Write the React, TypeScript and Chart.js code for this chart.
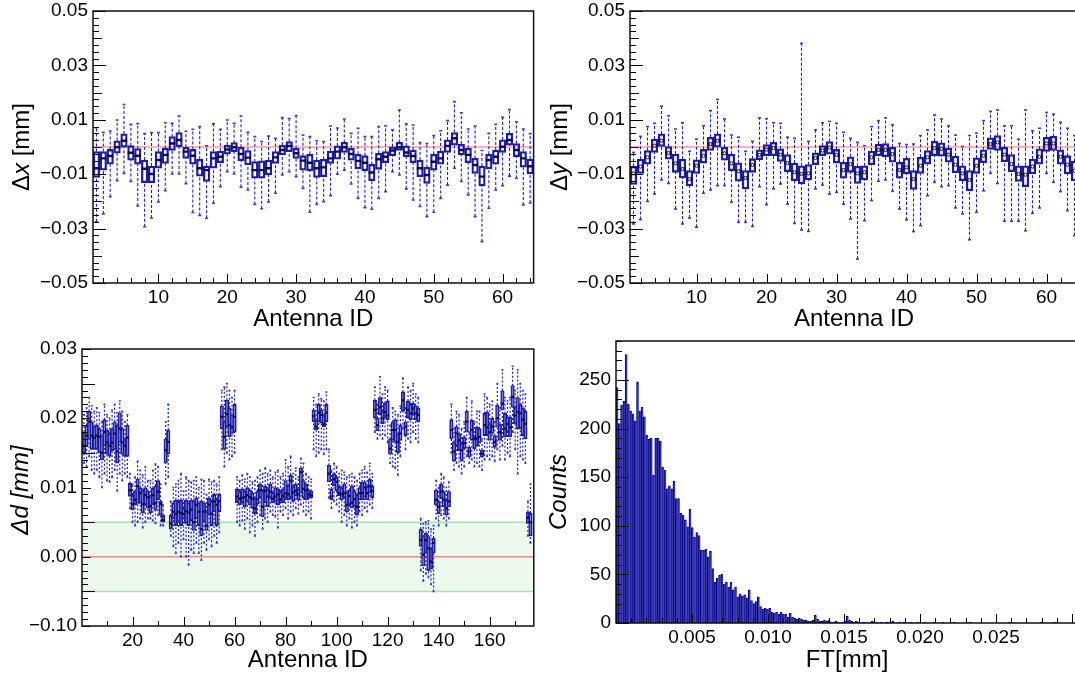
import { useEffect, useRef } from "react";
import { Chart, registerables } from "chart.js";
Chart.register(...registerables);

const FONT = "'Liberation Sans', Arial, Helvetica, sans-serif";

// ---------- Panel 1: Δx per antenna (values in 1e-3 mm) ----------
const DX_HI = [7.1,5.4,5.9,9.9,15.6,8.3,8.6,4.9,5.3,5.3, 8.9,8.7,11.4,5.8,6.5,7.5,0.4,8.5,6.5,9.9, 8.7,11.4,5.4,3.8,2.0,4.0,3.2,10.8,10.5,11.6, 4.4,3.8,2.3,2.0,7.7,7.0,10.3,5.0,6.9,3.8, 3.8,7.5,7.8,6.3,13.6,8.5,8.1,1.6,1.3,4.2, 6.0,9.7,16.7,12.6,6.6,7.7,-1.3,5.0,8.3,10.9, 13.8,9.3,6.6,4.9];
const DX_Q3 = [-1.7,-1.7,-0.9,2.3,4.8,0.5,-0.6,-4.8,-7.0,-1.7, -0.5,3.8,5.3,-0.1,-0.9,-4.5,-7.0,-1.7,-1.5,0.7, 1.6,-0.1,-1.3,-5.4,-5.1,-4.8,-1.7,0.7,2.0,-0.5, -3.2,-2.7,-4.8,-4.5,-1.5,0.4,1.7,-0.5,-2.7,-3.2, -6.4,-2.3,-1.7,0.1,1.7,0.4,-1.1,-4.8,-7.5,-2.7, -1.5,2.6,5.3,1.1,-0.5,-4.2,-7.0,-2.7,-1.1,2.6, 5.0,1.3,-1.7,-4.4];
const DX_MED = [-7.8,-4.2,-3.3,-0.1,2.3,-2.1,-3.2,-8.0,-9.9,-4.8, -2.9,1.3,2.6,-1.7,-3.2,-7.8,-8.5,-4.2,-3.6,-0.9, -0.1,-2.6,-3.9,-8.5,-8.5,-7.8,-3.8,-1.1,0.4,-2.3, -5.0,-5.8,-7.8,-7.5,-4.2,-1.7,-0.1,-2.6,-5.1,-5.8, -9.4,-4.5,-3.6,-1.3,-0.1,-2.0,-3.3,-7.8,-10.3,-5.4, -4.2,0.4,3.2,-1.1,-2.9,-6.6,-10.9,-4.8,-3.6,0.1, 2.6,-1.1,-4.2,-7.1];
const DX_Q1 = [-11.2,-8.5,-6.3,-2.3,-0.1,-4.8,-6.3,-13.1,-13.1,-7.8, -6.0,-1.3,0.1,-4.2,-6.3,-10.7,-12.7,-7.8,-5.8,-2.6, -1.7,-5.0,-6.6,-11.5,-11.5,-10.3,-6.0,-2.9,-1.7,-4.2, -8.5,-8.7,-11.2,-10.9,-6.0,-4.5,-2.0,-4.8,-8.1,-8.7, -12.4,-8.2,-5.8,-3.2,-1.3,-3.6,-5.8,-10.9,-13.4,-8.5, -6.3,-2.0,0.7,-2.9,-5.8,-9.7,-14.3,-8.1,-6.3,-2.0, 0.7,-3.6,-7.4,-9.9];
const DX_LO = [-27.5,-24.6,-18.3,-12.4,-9.7,-12.7,-21.7,-29.3,-26.1,-20.2, -16.1,-9.9,-9.9,-13.5,-24.1,-25.2,-26.2,-20.7,-14.6,-9.1, -9.9,-14.8,-15.8,-21.1,-22.7,-20.2,-17.0,-10.3,-9.1,-10.9, -15.2,-24.0,-21.1,-20.1,-17.9,-10.0,-8.5,-13.6,-18.9,-22.3, -22.9,-18.9,-16.4,-9.1,-10.3,-15.4,-19.5,-21.9,-25.6,-24.0, -18.9,-14.0,-7.8,-12.7,-17.6,-25.6,-34.8,-22.5,-15.8,-14.2, -10.7,-11.5,-21.3,-20.6];

// ---------- Panel 2: Δy per antenna (values in 1e-3 mm) ----------
const DY_HI = [-2.0,3.9,7.5,8.7,15.0,11.5,6.6,8.9,-1.6,2.9, 7.8,13.4,17.5,10.3,4.4,3.6,-1.6,2.1,10.7,10.4, 8.9,8.7,3.6,3.2,38.1,2.1,6.3,8.9,9.4,8.7, 5.4,3.2,1.7,0.5,7.5,9.7,10.7,8.2,1.3,0.9, 1.1,4.2,6.3,11.8,10.3,7.8,4.4,0.2,4.2,5.1, 9.7,13.1,13.6,7.8,7.8,2.9,13.6,6.0,6.9,12.7, 12.1,9.1,6.9,4.2];
const DY_Q3 = [-7.1,-4.5,-1.3,2.9,4.8,0.2,-2.6,-4.5,-8.7,-4.7, -0.9,3.6,4.8,-0.1,-2.7,-5.8,-8.7,-4.3,-1.0,0.9, 1.7,-0.7,-2.8,-5.9,-6.9,-6.5,-2.1,0.5,2.0,-0.9, -5.6,-3.6,-7.1,-6.9,-1.5,1.1,1.3,-0.1,-5.6,-4.2, -8.7,-3.8,-1.3,2.1,1.5,-0.4,-3.3,-6.9,-8.7,-4.0, -1.0,3.4,4.2,-0.1,-2.8,-6.9,-6.9,-4.4,-0.7,3.6, 3.9,-1.0,-3.2,-5.3];
const DY_MED = [-9.7,-7.2,-3.8,0.5,2.3,-2.2,-6.0,-8.1,-11.8,-6.9, -3.2,1.1,2.3,-2.3,-6.0,-8.9,-11.4,-6.6,-2.9,-1.0, -0.4,-2.8,-5.9,-9.3,-9.9,-9.7,-4.0,-1.3,-0.2,-2.9, -8.5,-6.3,-9.7,-9.3,-3.8,-1.1,-1.1,-2.6,-8.5,-7.5, -11.8,-6.9,-3.8,-0.4,-0.7,-2.8,-6.5,-9.7,-12.1,-6.9, -3.2,1.1,1.7,-2.8,-6.3,-9.9,-10.2,-7.2,-3.6,1.3, 1.3,-3.6,-6.5,-8.7];
const DY_Q1 = [-13.8,-9.7,-6.3,-2.0,0.2,-4.5,-9.3,-11.4,-14.3,-9.7, -5.9,-1.3,-0.1,-4.8,-8.7,-12.6,-15.4,-9.3,-4.7,-3.2, -3.2,-5.3,-9.1,-12.4,-13.6,-12.1,-6.5,-3.2,-2.6,-5.9, -11.5,-9.3,-13.4,-12.1,-6.5,-3.2,-3.6,-5.6,-11.5,-9.9, -15.6,-9.7,-6.3,-3.2,-3.4,-5.6,-9.4,-12.4,-16.1,-9.7, -5.8,-0.9,-1.3,-5.4,-9.1,-12.7,-14.6,-9.9,-6.3,-1.6, -1.3,-6.3,-9.9,-12.4];
const DY_LO = [-28.3,-26.7,-20.0,-17.3,-12.1,-13.4,-22.8,-28.3,-26.1,-29.5, -17.0,-15.8,-14.2,-14.2,-20.3,-27.7,-27.7,-29.2,-14.6,-21.2, -15.4,-13.6,-21.0,-28.1,-30.5,-31.0,-15.4,-14.0,-17.3,-16.7, -21.0,-26.5,-41.2,-27.1,-19.7,-12.6,-12.1,-16.3,-22.8,-26.8, -31.1,-28.9,-17.9,-13.0,-14.6,-14.2,-22.4,-24.6,-34.1,-24.0, -16.1,-9.7,-13.4,-27.3,-27.3,-27.3,-30.8,-24.4,-22.4,-9.7, -13.0,-16.4,-23.4,-32.6];

// ---------- Panel 3: Δd per antenna (values in 1e-3 mm) ----------
const DD_LO = [13.5,13.0,14.5,12.5,12.0,12.5,11.5,10.0,12.0,11.0,10.8,11.5,12.5,9.5,12.0,11.0,12.0,11.5,
  7.0,5.0,4.5,5.0,5.5,4.2,5.0,5.5,5.5,5.2,4.8,6.0,4.5,4.5, 10.5,11.5,
  3.0,1.5,0.5,2.0,0.0,2.5,0.0,-1.2,1.0,0.5,2.0,0.5,-0.5,2.0,1.0,2.5,1.5,3.0,2.0,3.5,
  15.5,13.0,15.0,14.0,14.5,15.0,
  5.0,4.5,5.2,4.0,5.5,3.5,4.5,3.0,5.0,6.0,4.0,5.5,5.0,6.5,6.0,5.8,4.2,6.5,6.0,7.0,5.5,6.5,6.0,7.0,6.2,7.5,6.5,6.0,6.5,5.5,
  15.5,14.5,15.0,15.5,14.8,15.5,
  8.5,7.0,8.0,7.5,6.5,5.0,6.0,4.5,5.5,4.2,5.0,4.5,6.5,6.0,7.0,6.5,7.5,7.0,
  18.0,17.0,17.5,17.0,17.5,16.5,13.5,13.0,12.8,11.8,14.5,18.5,15.5,17.0,16.5,18.0,17.0,16.5,
  -2.0,-3.5,-2.5,-3.0,-4.0,-5.0,
  5.5,4.5,6.0,5.5,4.5,5.5,
  15.0,12.5,13.5,13.0,12.0,13.0,14.5,13.5,14.0,13.0,13.5,13.0,12.5,14.0,14.5,14.0,14.5,13.8,15.5,14.0,16.0,14.0,15.0,14.5,18.0,15.5,12.0,14.5,14.0,13.5,3.0,2.0];
const DD_Q1 = [15.0,16.0,17.0,15.5,15.5,15.5,15.0,14.0,16.0,14.8,14.5,15.3,15.5,13.5,16.5,14.8,14.5,14.5,
  8.7,6.8,7.5,7.7,7.7,6.3,7.5,7.0,6.3,7.5,6.7,8.2,6.0,5.0, 13.5,14.8,
  4.0,5.5,4.5,5.0,4.5,5.5,4.8,4.5,5.2,3.8,5.5,4.5,3.0,5.0,3.8,6.0,4.5,6.5,4.5,6.5,
  18.5,15.5,18.8,17.3,17.8,18.0,
  7.8,7.5,7.8,7.2,8.0,7.5,7.0,6.2,7.6,8.5,5.8,7.8,7.2,8.5,7.8,8.0,7.5,8.0,7.8,8.5,8.2,8.5,8.0,8.8,8.2,9.2,8.5,8.2,8.5,8.5,
  19.5,18.3,19.5,19.3,18.8,19.5,
  10.8,8.2,10.2,9.5,8.8,8.2,8.5,6.5,7.5,7.0,7.2,6.0,8.2,8.2,8.6,8.2,9.2,8.5,
  20.0,18.2,20.5,19.2,20.0,19.8,14.8,16.8,16.5,15.0,16.8,21.0,17.5,20.0,19.8,20.5,19.8,19.5,
  1.5,-1.3,0.5,-2.0,-1.8,0.5,
  7.5,6.2,8.4,7.2,6.0,7.2,
  17.0,13.8,16.0,15.3,13.8,15.6,18.0,14.4,16.8,15.6,16.0,16.4,14.4,17.5,17.5,16.8,17.8,15.8,18.7,16.8,21.2,17.3,18.0,17.3,21.6,19.2,18.5,18.5,17.5,17.0,4.8,3.0];
const DD_MED = [16.0,17.5,19.5,17.5,17.2,17.5,17.3,15.0,18.0,16.5,16.0,16.5,17.8,15.2,18.5,16.5,16.0,17.2,
  9.6,7.6,8.2,10.2,9.2,7.6,8.9,8.6,7.3,8.9,7.7,9.4,7.6,5.3, 15.4,16.6,
  4.8,6.5,6.2,6.5,6.3,6.2,6.6,6.4,6.8,5.0,7.5,6.5,4.0,6.5,4.5,7.5,6.2,8.0,7.5,8.0,
  20.2,17.3,20.6,19.0,18.7,20.2,
  8.7,8.4,8.5,8.6,8.9,8.6,8.4,7.0,8.3,9.6,7.2,9.5,8.7,9.4,8.4,8.7,9.0,8.3,8.8,9.2,9.0,11.0,9.3,9.5,9.0,12.2,9.8,9.6,9.0,8.9,
  20.3,18.8,20.8,20.5,19.2,20.8,
  12.0,8.7,11.2,10.8,9.2,9.0,9.2,7.5,8.8,7.8,8.3,7.2,9.2,9.2,10.0,9.2,10.2,9.5,
  21.2,19.0,21.6,20.0,20.9,20.4,15.6,18.3,18.3,16.6,17.8,22.6,18.8,21.2,20.7,21.4,20.7,20.5,
  2.4,0.3,2.4,1.2,-0.7,2.0,
  8.2,7.2,9.4,8.2,7.0,8.0,
  18.3,15.2,17.8,16.8,15.4,16.4,19.5,15.2,18.3,17.0,17.1,17.3,14.9,19.0,18.7,18.0,18.8,16.6,20.0,18.0,22.1,18.5,19.2,18.7,23.1,20.4,20.9,20.7,19.8,19.2,5.6,5.0];
const DD_Q3 = [18.0,19.0,21.0,19.5,18.8,19.0,18.5,17.5,19.8,18.3,17.8,18.5,19.5,19.0,20.8,18.5,17.0,19.0,
  10.6,8.9,9.5,11.2,10.0,9.6,10.0,9.5,8.7,9.9,10.2,11.0,8.0,6.0, 17.0,18.3,
  6.0,7.8,8.2,8.0,8.2,7.0,8.2,7.8,8.2,8.0,8.5,7.8,8.0,7.8,6.5,8.5,8.0,9.0,8.3,9.0,
  21.8,19.5,22.6,21.5,20.5,22.0,
  9.8,9.5,9.8,9.5,10.0,9.6,9.2,8.5,9.5,10.5,9.5,10.2,9.8,10.5,9.3,10.0,9.8,9.4,9.8,11.0,10.3,11.8,10.2,10.5,9.8,12.8,11.0,10.5,9.6,9.5,
  21.2,19.8,22.0,21.2,20.5,22.0,
  13.2,9.8,12.0,11.5,10.2,10.0,10.5,9.3,9.6,10.2,9.5,9.0,10.0,10.8,10.8,10.2,11.2,10.2,
  22.6,20.0,23.0,21.0,22.2,22.5,17.0,19.5,19.8,17.8,19.0,23.8,19.5,22.5,22.0,22.2,21.8,21.5,
  4.0,2.9,3.4,2.9,1.2,2.7,
  9.6,8.0,10.5,9.4,8.2,9.4,
  19.8,16.6,18.8,17.8,16.4,17.3,21.0,15.8,19.7,17.3,18.7,18.5,15.4,20.7,20.9,19.2,20.0,17.5,21.9,19.2,24.0,20.7,20.2,20.2,24.7,21.6,23.0,22.0,21.5,21.0,6.5,6.3];
const DD_HI = [20.5,21.5,23.0,21.8,21.0,21.5,20.8,19.5,22.0,20.5,20.0,21.2,22.0,20.8,22.5,21.0,19.5,20.5,
  12.0,10.5,11.5,13.8,12.5,11.8,13.0,11.0,11.0,12.5,13.4,13.0,10.5,7.5, 19.5,22.0,
  8.0,10.0,10.5,11.0,12.0,9.5,11.5,11.0,10.8,11.0,11.5,10.0,11.2,11.0,9.0,11.2,10.8,11.0,10.5,11.5,
  24.0,24.5,25.0,24.0,23.0,24.0,
  11.5,11.0,11.8,11.2,12.0,11.5,10.8,11.0,11.5,12.5,12.0,12.8,12.0,12.5,11.5,12.2,12.5,11.5,12.0,14.0,13.0,14.5,12.0,12.8,11.5,14.2,13.5,12.0,11.5,11.2,
  23.0,22.0,23.5,22.8,22.5,23.8,
  15.5,12.5,13.5,13.0,12.0,12.5,12.2,11.5,11.8,12.0,11.5,11.0,12.0,12.5,13.0,12.2,13.5,12.0,
  24.5,22.0,26.0,23.5,24.5,24.0,19.0,21.5,21.0,20.5,21.8,25.8,21.5,24.5,24.0,25.0,23.5,23.0,
  5.5,4.8,5.0,5.2,4.0,4.5,
  11.0,10.0,12.0,11.5,10.0,10.8,
  22.0,18.5,21.0,20.5,18.5,19.5,23.0,18.0,22.5,19.5,21.0,21.0,17.0,23.5,23.0,22.0,22.5,19.5,25.0,21.5,27.0,23.0,22.5,23.0,27.5,24.0,27.0,25.0,24.0,23.5,8.0,10.5];
const DD_FILLED = [3,8,13,15,22,29,44,47,49,55,57,59,66,71,80,86,97,104,106,116,121,134,136,139,144,146,151,157,160,163,165,169,171];
const DD_BAND = [-0.005, 0.005];

// ---------- Panel 4: FT histogram ----------
const FT_BIN_WIDTH = 0.00015;
const FT_COUNTS = [
  242,205,224,228,276,225,218,215,208,248,
  218,222,212,193,189,190,152,190,190,187,
  160,157,138,141,138,146,128,128,113,111,
  106,99,117,98,88,93,90,75,75,76,
  68,74,56,42,46,49,50,40,42,37,
  42,34,37,27,30,28,29,26,34,23,
  20,22,27,17,14,15,14,15,11,10,
  11,9,11,9,9,6,10,6,5,4,
  5,4,3,3,2,2,3,8,4,2,
  2,3,2,3,1,1,2,1,0,1,
  2,7,3,2,1,2,1,0,1,1,
  0,1,2,0,1,0,1,0,1,1,
  0,2,0,0,1,0,1,0,0,1,
  0,0,1,0,0,1,0,0,0,1,
  0,0,0,1,0,0,0,0,1,0,
  0,0,0,0,0,1,0,0,0,0,
  0,0,0,0,0,0,0,0,0,0,
  0,0,1,0,0,0,0,0,0,0,
  0,0,0,0,0,0,1,0,0,0,
  0,0,1,0,0,0,0,0,0,0];

// ---------- axis tick values ----------
const DXY_Y_TICKS = [-0.05, -0.03, -0.01, 0.01, 0.03, 0.05];
const DXY_X_TICKS = [10, 20, 30, 40, 50, 60];
const DD_Y_TICKS = [-0.01, 0, 0.01, 0.02, 0.03];
const DD_Y_LABELS = ["\u22120.10", "0.00", "0.01", "0.02", "0.03"];
const DD_X_TICKS = [20, 40, 60, 80, 100, 120, 140, 160];
const FT_X_TICKS = [0.005, 0.01, 0.015, 0.02, 0.025];
const FT_Y_TICKS = [0, 50, 100, 150, 200, 250];

const TICK_FONT = 19;
const TITLE_FONT = 24;

const mm = (a: number[]) => a.map((v) => v / 1000);
const ids = (n: number) => Array.from({ length: n }, (_, i) => i + 1);

type Part = { t: string; i?: boolean };
type Level = { start: number; step: number; len: number };

function drawParts(ctx: CanvasRenderingContext2D, parts: Part[], size: number, cx: number, cy: number, rot: boolean) {
  ctx.save();
  ctx.translate(cx, cy);
  if (rot) ctx.rotate(-Math.PI / 2);
  const fonts = parts.map((p) => `${p.i ? "italic " : ""}${size}px ${FONT}`);
  let total = 0;
  const ws = parts.map((p, k) => {
    ctx.font = fonts[k];
    const w = ctx.measureText(p.t).width;
    total += w;
    return w;
  });
  let x = -total / 2;
  ctx.textBaseline = "middle";
  ctx.textAlign = "left";
  ctx.fillStyle = "#000";
  parts.forEach((p, k) => {
    ctx.font = fonts[k];
    ctx.fillText(p.t, x, 0);
    x += ws[k];
  });
  ctx.restore();
}

function levelValues(l: Level, min: number, max: number) {
  const out: number[] = [];
  const k0 = Math.ceil((min - l.start) / l.step - 1e-6);
  const k1 = Math.floor((max - l.start) / l.step + 1e-6);
  for (let k = k0; k <= k1; k++) out.push(l.start + k * l.step);
  return out;
}

const rootPlugin = {
  id: "rootDecor",
  beforeDatasetsDraw(chart: any, _a: any, o: any) {
    const { ctx, chartArea: ca, scales } = chart;
    const y = scales.y;
    ctx.save();
    if (o.band) {
      const y0 = y.getPixelForValue(o.band[0]);
      const y1 = y.getPixelForValue(o.band[1]);
      ctx.fillStyle = "rgba(170,228,170,0.22)";
      ctx.fillRect(ca.left, y1, ca.right - ca.left, y0 - y1);
      ctx.strokeStyle = "#a6e3a6";
      ctx.lineWidth = 1.5;
      [y0, y1].forEach((p: number) => {
        ctx.beginPath();
        ctx.moveTo(ca.left, p);
        ctx.lineTo(ca.right, p);
        ctx.stroke();
      });
    }
    if (o.refLine !== undefined) {
      const p = y.getPixelForValue(o.refLine);
      ctx.strokeStyle = o.refColor || "#ff9c9c";
      ctx.lineWidth = 1.5;
      ctx.beginPath();
      ctx.moveTo(ca.left, p);
      ctx.lineTo(ca.right, p);
      ctx.stroke();
    }
    ctx.restore();
  },
  afterDraw(chart: any, _a: any, o: any) {
    const { ctx, chartArea: ca, scales } = chart;
    const xs = scales.x;
    const ys = scales.y;
    ctx.save();
    ctx.strokeStyle = "#000";
    ctx.lineWidth = 1;
    (o.yLevels || []).forEach((l: Level) => {
      levelValues(l, ys.min, ys.max).forEach((v) => {
        const p = Math.round(ys.getPixelForValue(v)) + 0.5;
        ctx.beginPath();
        ctx.moveTo(ca.left, p);
        ctx.lineTo(ca.left + l.len, p);
        ctx.stroke();
      });
    });
    (o.xLevels || []).forEach((l: Level) => {
      levelValues(l, xs.min, xs.max).forEach((v) => {
        const p = Math.round(xs.getPixelForValue(v)) + 0.5;
        ctx.beginPath();
        ctx.moveTo(p, ca.bottom);
        ctx.lineTo(p, ca.bottom - l.len);
        ctx.stroke();
      });
    });
    ctx.strokeStyle = "#111";
    ctx.lineWidth = 1.5;
    ctx.strokeRect(ca.left, ca.top, ca.right - ca.left, ca.bottom - ca.top);
    ctx.restore();
    if (o.xTitle) drawParts(ctx, o.xTitle.parts, TITLE_FONT, (ca.left + ca.right) / 2, o.xTitle.y, false);
    if (o.yTitle) drawParts(ctx, o.yTitle.parts, TITLE_FONT, o.yTitle.x, o.yTitle.y, true);
  },
};

function axis(min: number, max: number, ticks: number[], fmt: (v: number, i: number) => string, size: number, isX: boolean, pad: number) {
  return {
    type: "linear",
    min,
    max,
    offset: false,
    beginAtZero: false,
    grid: { display: false, drawTicks: false, offset: false },
    border: { display: false },
    afterBuildTicks: (s: any) => {
      s.ticks = ticks.map((v) => ({ value: v }));
    },
    afterFit: (s: any) => {
      if (isX) {
        s.height = size;
        s.paddingLeft = 0;
        s.paddingRight = 0;
      } else {
        s.width = size;
        s.paddingTop = 0;
        s.paddingBottom = 0;
      }
    },
    ticks: {
      autoSkip: false,
      maxRotation: 0,
      minRotation: 0,
      padding: pad,
      color: "#000",
      font: { family: FONT, size: TICK_FONT },
      callback: (v: number, i: number) => fmt(v, i),
    },
  };
}

const fmt2 = (v: number) => v.toFixed(2).replace("-", "\u2212");

type BoxSpec = {
  n: number;
  lo: number[]; q1: number[]; med: number[]; q3: number[]; hi: number[];
  filled?: number[];
  xMin: number; xMax: number; yMin: number; yMax: number;
  xTicks: number[]; yTicks: number[]; yFmt: (v: number, i: number) => string;
  barW: number; boxLW: number; dash: number[]; whiskLW: number; capR: number; medR: number; medLW: number; circles: boolean;
  layout: { right: number; top: number }; yW: number; xH: number;
  decor: any;
};

function boxConfig(s: BoxSpec): any {
  const X = ids(s.n);
  const lo = mm(s.lo), q1 = mm(s.q1), med = mm(s.med), q3 = mm(s.q3), hi = mm(s.hi);
  const whisk: any[] = [];
  X.forEach((x, i) => {
    whisk.push({ x, y: lo[i] }, { x, y: Math.min(q1[i], q3[i]) }, { x, y: null });
    whisk.push({ x, y: Math.max(q1[i], q3[i]) }, { x, y: hi[i] }, { x, y: null });
  });
  const caps: any[] = [];
  X.forEach((x, i) => caps.push({ x, y: lo[i] }, { x, y: hi[i] }));
  const filled = new Set(s.filled || []);
  const datasets: any[] = [
    {
      type: "line", data: whisk, borderColor: "#1e1ec8", borderWidth: s.whiskLW, borderDash: s.dash,
      pointRadius: 0, spanGaps: false, tension: 0, order: 6,
    },
    {
      type: "line", data: caps, showLine: false, pointStyle: "line", pointRadius: s.capR,
      pointBorderWidth: 1.6, pointBorderColor: "#3a3ad6", order: 5,
    },
    {
      type: "bar", data: X.map((x, i) => ({ x, y: [q1[i], q3[i]] })), barThickness: s.barW,
      borderColor: "#1c1ca4", borderWidth: s.boxLW, borderSkipped: false, grouped: false,
      backgroundColor: X.map((x) => (filled.has(x) ? "rgba(110,110,205,0.65)" : "rgba(255,255,255,0)")),
      order: 4,
    },
    {
      type: "line", data: X.map((x, i) => ({ x, y: med[i] })), showLine: false, pointStyle: "line",
      pointRadius: s.medR, pointBorderWidth: s.medLW, pointBorderColor: "#0c0c55", order: 3,
    },
  ];
  if (s.circles) {
    datasets.push({
      type: "line", data: X.map((x, i) => ({ x, y: med[i] })), showLine: false, pointStyle: "circle",
      pointRadius: 1.6, pointBorderWidth: 1, pointBorderColor: "#111", pointBackgroundColor: "#fff", order: 1,
    });
  }
  return {
    type: "bar",
    data: { datasets },
    plugins: [rootPlugin],
    options: {
      responsive: false,
      animation: false,
      devicePixelRatio: 1,
      events: [],
      layout: { padding: { left: 0, right: s.layout.right, top: s.layout.top, bottom: 0 } },
      plugins: { legend: { display: false }, tooltip: { enabled: false }, rootDecor: s.decor },
      scales: {
        x: axis(s.xMin, s.xMax, s.xTicks, (v) => String(v), s.xH, true, 3),
        y: axis(s.yMin, s.yMax, s.yTicks, s.yFmt, s.yW, false, 5),
      },
    },
  };
}

const DXY_Y_LEVELS: Level[] = [
  { start: -0.05, step: 0.0025, len: 6 },
  { start: -0.04, step: 0.02, len: 9 },
  { start: -0.05, step: 0.02, len: 13 },
];
const DXY_X_LEVELS: Level[] = [
  { start: 0, step: 2, len: 5 },
  { start: 0, step: 10, len: 9 },
];

function histConfig(): any {
  const data = FT_COUNTS.map((c, i) => ({ x: (i + 0.5) * FT_BIN_WIDTH, y: c }));
  return {
    type: "bar",
    data: {
      datasets: [
        {
          data, backgroundColor: "#3434ac", borderColor: "#00008a", borderWidth: { left: 1, right: 0, top: 1, bottom: 0 },
          borderSkipped: "bottom", barPercentage: 1, categoryPercentage: 1, grouped: false,
        },
      ],
    },
    plugins: [rootPlugin],
    options: {
      responsive: false,
      animation: false,
      devicePixelRatio: 1,
      events: [],
      layout: { padding: { left: 0, right: 7, top: 3, bottom: 0 } },
      plugins: {
        legend: { display: false }, tooltip: { enabled: false },
        rootDecor: {
          yLevels: [{ start: 0, step: 10, len: 6 }, { start: 0, step: 50, len: 13 }],
          xLevels: [{ start: 0, step: 0.001, len: 5 }, { start: 0, step: 0.005, len: 9 }],
          xTitle: { parts: [{ t: "FT[mm]" }], y: 322 },
          yTitle: { parts: [{ t: "Counts", i: true }], x: 19, y: 154 },
        },
      },
      scales: {
        x: axis(0, 0.0304, FT_X_TICKS, (v) => v.toFixed(3), 54, true, 3),
        y: axis(0, 290, FT_Y_TICKS, (v) => String(v), 76, false, 5),
      },
    },
  };
}

export default function App() {
  const r1 = useRef<HTMLCanvasElement>(null);
  const r2 = useRef<HTMLCanvasElement>(null);
  const r3 = useRef<HTMLCanvasElement>(null);
  const r4 = useRef<HTMLCanvasElement>(null);

  useEffect(() => {
    const c1 = new Chart(r1.current as HTMLCanvasElement, boxConfig({
      n: 64, lo: DX_LO, q1: DX_Q1, med: DX_MED, q3: DX_Q3, hi: DX_HI,
      xMin: 0.5, xMax: 64.5, yMin: -0.05, yMax: 0.05, xTicks: DXY_X_TICKS, yTicks: DXY_Y_TICKS, yFmt: fmt2,
      barW: 6.5, boxLW: 1.6, dash: [3, 2], whiskLW: 1.1, capR: 1.5, medR: 3.2, medLW: 2.4, circles: false,
      layout: { right: 2.5, top: 11 }, yW: 93, xH: 55,
      decor: {
        refLine: 0, yLevels: DXY_Y_LEVELS, xLevels: DXY_X_LEVELS,
        xTitle: { parts: [{ t: "Antenna ID" }], y: 319 },
        yTitle: { parts: [{ t: "\u0394" }, { t: "x", i: true }, { t: " [mm]" }], x: 22, y: 147 },
      },
    }));
    const c2 = new Chart(r2.current as HTMLCanvasElement, boxConfig({
      n: 64, lo: DY_LO, q1: DY_Q1, med: DY_MED, q3: DY_Q3, hi: DY_HI,
      xMin: 0.5, xMax: 64.5, yMin: -0.05, yMax: 0.05, xTicks: DXY_X_TICKS, yTicks: DXY_Y_TICKS, yFmt: fmt2,
      barW: 6.5, boxLW: 1.6, dash: [3, 2], whiskLW: 1.1, capR: 1.5, medR: 3.2, medLW: 2.4, circles: true,
      layout: { right: 7, top: 11 }, yW: 90, xH: 55,
      decor: {
        refLine: 0, yLevels: DXY_Y_LEVELS, xLevels: DXY_X_LEVELS,
        xTitle: { parts: [{ t: "Antenna ID" }], y: 319 },
        yTitle: { parts: [{ t: "\u0394" }, { t: "y", i: true }, { t: " [mm]" }], x: 20, y: 147 },
      },
    }));
    const c3 = new Chart(r3.current as HTMLCanvasElement, boxConfig({
      n: 176, lo: DD_LO, q1: DD_Q1, med: DD_MED, q3: DD_Q3, hi: DD_HI, filled: DD_FILLED,
      xMin: 0.2, xMax: 177.3, yMin: -0.01, yMax: 0.03, xTicks: DD_X_TICKS, yTicks: DD_Y_TICKS,
      yFmt: (_v, i) => DD_Y_LABELS[i],
      barW: 3.5, boxLW: 1.2, dash: [2, 2], whiskLW: 1.2, capR: 1, medR: 1.6, medLW: 2.2, circles: false,
      layout: { right: 2, top: 11 }, yW: 82, xH: 51,
      decor: {
        refLine: 0, refColor: "#ef8a8a", band: DD_BAND,
        yLevels: [
          { start: -0.01, step: 0.001, len: 6 },
          { start: 0, step: 0.01, len: 9 },
          { start: -0.005, step: 0.01, len: 13 },
        ],
        xLevels: [{ start: 0, step: 10, len: 5 }, { start: 0, step: 20, len: 9 }],
        xTitle: { parts: [{ t: "Antenna ID" }], y: 322 },
        yTitle: { parts: [{ t: "\u0394d [mm]", i: true }], x: 21, y: 152 },
      },
    }));
    const c4 = new Chart(r4.current as HTMLCanvasElement, histConfig());
    return () => {
      c1.destroy();
      c2.destroy();
      c3.destroy();
      c4.destroy();
    };
  }, []);

  const abs = (l: number, t: number, w: number, h: number): any => ({ position: "absolute", left: l, top: t, width: w, height: h });
  return (
    <div style={{ position: "fixed", left: 0, top: 0, width: 1075, height: 677, overflow: "hidden", background: "#fff" }}>
      <canvas ref={r1} width={540} height={338} style={abs(0, 0, 540, 338)} />
      <canvas ref={r2} width={545} height={338} style={abs(540, 0, 545, 338)} />
      <canvas ref={r3} width={540} height={339} style={abs(0, 338, 540, 339)} />
      <canvas ref={r4} width={545} height={339} style={abs(540, 338, 545, 339)} />
    </div>
  );
}
